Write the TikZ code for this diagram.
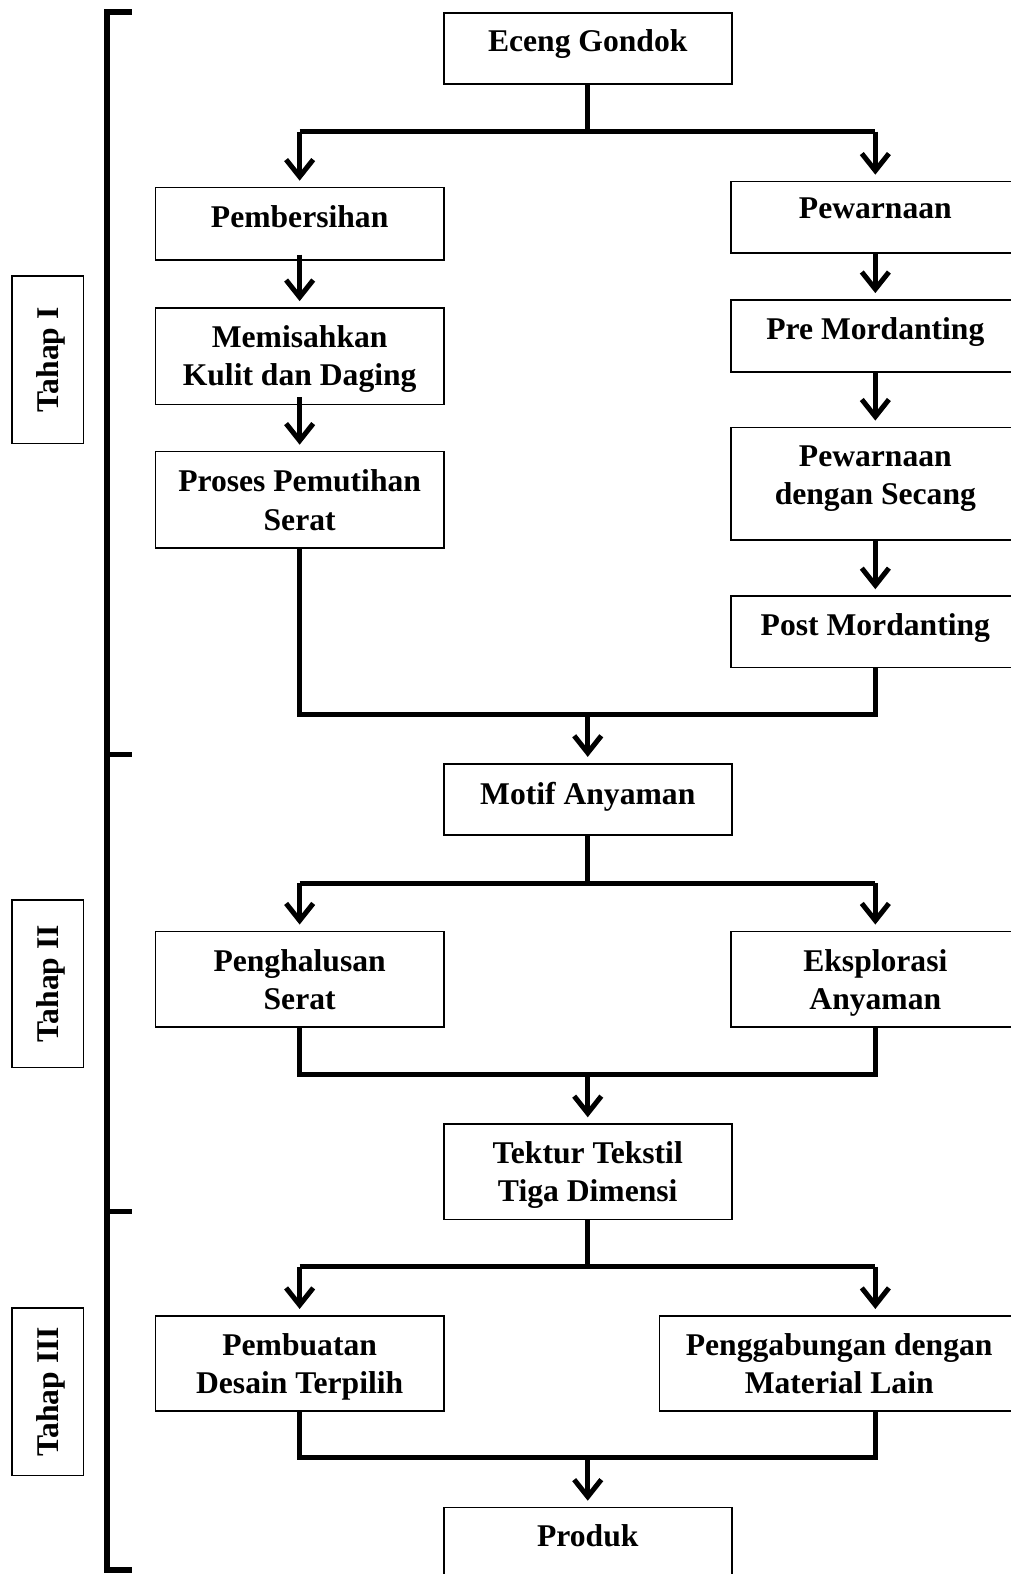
\documentclass[tikz,border=0pt]{standalone}
\usepackage{fontspec}
\setmainfont{Liberation Serif}
\usetikzlibrary{arrows.meta,calc}
\begin{document}
\begin{tikzpicture}[x=1pt,y=-1pt,
  box/.style={draw, line width=1.6pt, minimum width=287pt, inner sep=0pt, anchor=north},
  txt/.style={font=\fontsize{31.5}{38}\selectfont\bfseries, align=center, inner sep=0pt, anchor=north},
  lnk/.style={line width=5pt, line join=miter},
  arr/.style={line width=5pt, -{Straight Barb[length=17pt,width=27pt]}, shorten >=6pt},
  tahapbox/.style={draw, line width=1.6pt, minimum width=71pt, minimum height=167pt, inner sep=0pt},
  tahaptxt/.style={font=\fontsize{31.5}{38}\selectfont\bfseries, rotate=90, inner sep=0pt}
]
\useasboundingbox (0,0) rectangle (1007,1568);
\clip (0,0) rectangle (1007,1568);

% boxes
\node[box, minimum height=71pt] (eg) at (585.5,12) {};
\node[box, minimum height=72pt] (pb) at (298.5,186) {};
\node[box, minimum height=71pt] (pw) at (872,180) {};
\node[box, minimum height=96pt] (ms) at (298.5,306) {};
\node[box, minimum height=72pt] (pm) at (872,298) {};
\node[box, minimum height=96pt] (pp) at (298.5,449) {};
\node[box, minimum height=112pt] (sc) at (872,425) {};
\node[box, minimum height=71pt] (po) at (872,593) {};
\node[box, minimum height=71pt] (ma) at (585.5,760) {};
\node[box, minimum height=95pt] (ph) at (298.5,927) {};
\node[box, minimum height=95pt] (ea) at (872,927) {};
\node[box, minimum height=95pt] (tt) at (585.5,1119) {};
\node[box, minimum height=95pt] (bd) at (298.5,1310) {};
\node[box, minimum height=95pt, minimum width=358pt] (pg) at (836,1310) {};
\node[box, minimum height=95pt] (pr) at (585.5,1501) {};

% texts
\node[txt] (egt) at ($(eg.north)+(0,17)$) {Eceng Gondok};
\node[txt] (pbt) at ($(pb.north)+(0,19)$) {Pembersihan};
\node[txt] (pwt) at ($(pw.north)+(0,17)$) {Pewarnaan};
\node[txt] (mst) at ($(ms.north)+(0,18)$) {Memisahkan\\Kulit dan Daging};
\node[txt] (pmt) at ($(pm.north)+(0,18)$) {Pre Mordanting};
\node[txt] (ppt) at ($(pp.north)+(0,19)$) {Proses Pemutihan\\Serat};
\node[txt] (sct) at ($(sc.north)+(0,19)$) {Pewarnaan\\dengan Secang};
\node[txt] (pot) at ($(po.north)+(0,18)$) {Post Mordanting};
\node[txt] (mat) at ($(ma.north)+(0,19)$) {Motif Anyaman};
\node[txt] (pht) at ($(ph.north)+(0,19)$) {Penghalusan\\Serat};
\node[txt] (eat) at ($(ea.north)+(0,19)$) {Eksplorasi\\Anyaman};
\node[txt] (ttt) at ($(tt.north)+(0,18)$) {Tektur Tekstil\\Tiga Dimensi};
\node[txt] (bdt) at ($(bd.north)+(0,18)$) {Pembuatan\\Desain Terpilih};
\node[txt] (pgt) at ($(pg.north)+(0,18)$) {Penggabungan dengan\\Material Lain};
\node[txt] (prt) at ($(pr.north)+(0,18)$) {Produk};

% Tahap labels
\node[tahapbox] (t1) at (47.5,358.5) {};
\node[tahaptxt] (t1t) at (51,358.5) {Tahap I};
\node[tahapbox] (t2) at (47.5,980) {};
\node[tahaptxt] (t2t) at (51,980) {Tahap II};
\node[tahapbox] (t3) at (47.5,1386.5) {};
\node[tahaptxt] (t3t) at (51,1386.5) {Tahap III};

% bracket
\coordinate (bt) at (131,12);
\coordinate (bb) at (131,1564);
\draw[line width=6pt, line join=miter] (bt) -- (107,12) -- (107,1564) -- (bb);
\coordinate (k1) at (131,752);
\coordinate (k2) at (131,1207);
\draw[line width=5pt] (k1) -- (107,752);
\draw[line width=5pt] (k2) -- (107,1207);

% split 1
\coordinate (j1) at (585.5,131);
\draw[lnk] (eg.south) -- (j1);
\draw[lnk] (pb.north |- j1) -- (pw.north |- j1);
\draw[arr] (pb.north |- j1) -- (pb.north);
\draw[arr] (pw.north |- j1) -- (pw.north);

% chains
\draw[arr] ([yshift=6pt]pb.south) -- (ms.north);
\draw[arr] ([yshift=8pt]ms.south) -- (pp.north);
\draw[arr] (pw.south) -- (pm.north);
\draw[arr] (pm.south) -- (sc.north);
\draw[arr] (sc.south) -- (po.north);

% merge 1
\coordinate (j2) at (585.5,712);
\draw[lnk] (pp.south) -- (pp.south |- j2) -- (po.south |- j2) -- (po.south);
\draw[arr] (j2) -- (ma.north);

% split 2
\coordinate (j3) at (585.5,880);
\draw[lnk] (ma.south) -- (j3);
\draw[lnk] (ph.north |- j3) -- (ea.north |- j3);
\draw[arr] (ph.north |- j3) -- (ph.north);
\draw[arr] (ea.north |- j3) -- (ea.north);

% merge 2
\coordinate (j4) at (585.5,1070);
\draw[lnk] (ph.south) -- (ph.south |- j4) -- (ea.south |- j4) -- (ea.south);
\draw[arr] (j4) -- (tt.north);

% split 3
\coordinate (j5) at (585.5,1262);
\draw[lnk] (tt.south) -- (j5);
\draw[lnk] (bd.north |- j5) -- (ea.north |- j5);
\draw[arr] (bd.north |- j5) -- (bd.north);
\draw[arr] (ea.north |- j5) -- (pg.north -| ea.north);

% merge 3
\coordinate (j6) at (585.5,1452);
\draw[lnk] (bd.south) -- (bd.south |- j6) -- (ea.south |- j6) -- (pg.south -| ea.south);
\draw[arr] (j6) -- (pr.north);
\end{tikzpicture}
\end{document}
